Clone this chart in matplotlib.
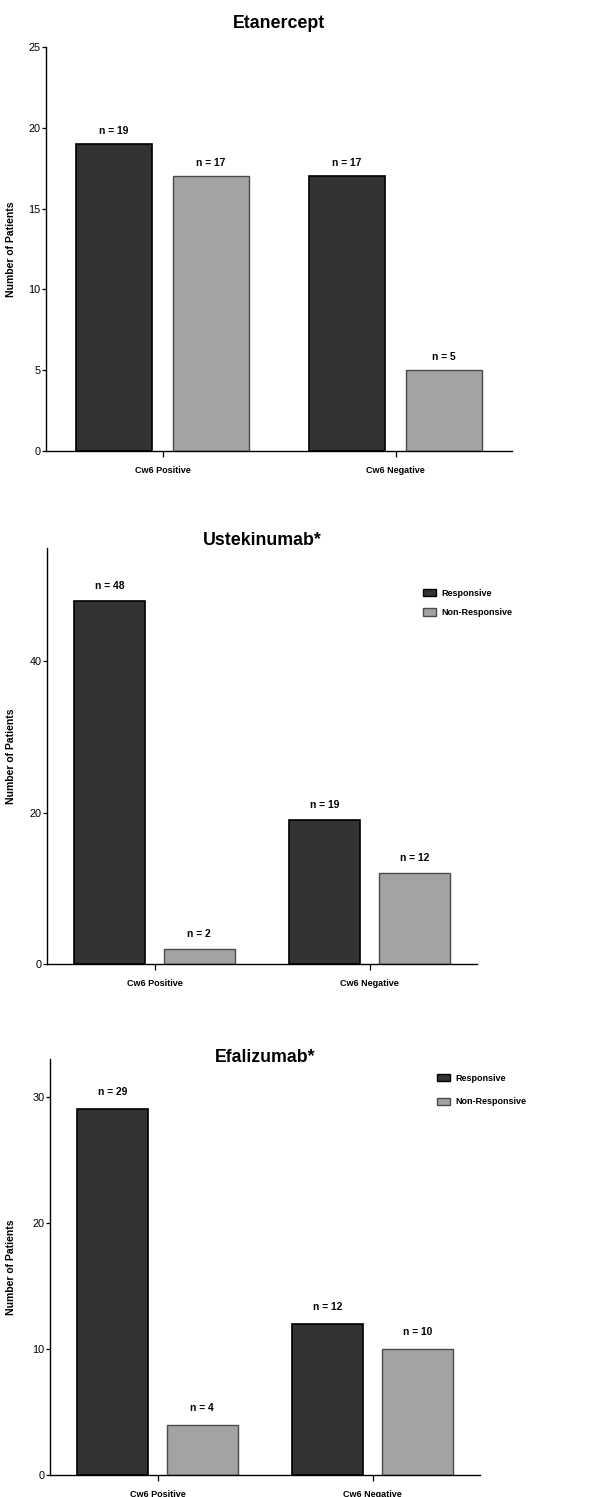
import matplotlib
matplotlib.use("Agg")
import matplotlib.pyplot as plt
from matplotlib.patches import Patch
import numpy as np

plt.rcParams['font.family'] = ['Liberation Sans', 'DejaVu Sans']

categories = ["Cw6 Positive", "Cw6 Negative"]
series_names = ["Responsive", "Non-Responsive"]

titles = ["Etanercept", "Ustekinumab*", "Efalizumab*"]
responsive = [[19, 17], [48, 19], [29, 12]]
non_responsive = [[17, 5], [2, 12], [4, 10]]
yticks = [[0, 5, 10, 15, 20, 25], [0, 20, 40], [0, 10, 20, 30]]
ylims = [25, 55, 33]

dark = "#333333"
gray = "#a3a3a6"

W, H = 615, 1497
fig = plt.figure(figsize=(W / 100, H / 100), dpi=100)

# layout (pixels): left, right, top, bottom
boxes = [(46, 512, 47, 451), (47, 477, 548, 964), (50, 480, 1059, 1475)]
title_y = [1.048, 1.008, 0.993]
label_off = [8, 10, 12]
legend_pos = [None, (423, 603, 1.15), (437, 1090, 1.65)]

x = np.arange(len(categories))
bw = 0.33
off = 0.208

for i in range(3):
    l, r, t, b = boxes[i]
    ax = fig.add_axes([l / W, 1 - b / H, (r - l) / W, (b - t) / H])
    b1 = ax.bar(x - off, responsive[i], bw, color=dark, edgecolor="black", linewidth=1.2, zorder=2)
    b2 = ax.bar(x + off, non_responsive[i], bw, color=gray, edgecolor="#4a4a4a", linewidth=1.0, zorder=2)
    for bars, vals in ((b1, responsive[i]), (b2, non_responsive[i])):
        for rect, v in zip(bars, vals):
            ax.annotate(f"n = {v}", (rect.get_x() + rect.get_width() / 2, v),
                        xytext=(0, label_off[i] * 0.72), textcoords="offset points",
                        ha="center", va="bottom", fontsize=7.4, fontweight="bold")
    ax.set_xlim(-0.5, 1.5)
    ax.set_ylim(0, ylims[i])
    ax.set_xticks(x)
    ax.set_xticklabels(categories, fontsize=6.5, fontweight="bold")
    ax.set_yticks(yticks[i])
    ax.tick_params(axis="y", length=3, width=0.9, pad=1, labelsize=7.8)
    ax.tick_params(axis="x", length=4, width=0.9, pad=7)
    for s in ("top", "right"):
        ax.spines[s].set_visible(False)
    for s in ("left", "bottom"):
        ax.spines[s].set_linewidth(1.0)
    ax.set_title(titles[i], fontsize=12.8, fontweight="bold", y=title_y[i], pad=0)
    ax.set_ylabel("Number of Patients", fontsize=7.5, fontweight="bold", va="center")
    ax.yaxis.set_label_coords(11.5 / W, 1 - ((t + b) / 2) / H, transform=fig.transFigure)
    if legend_pos[i] is not None:
        lx, ly, ls = legend_pos[i]
        handles = [Patch(facecolor=dark, edgecolor="black", linewidth=1.0),
                   Patch(facecolor=gray, edgecolor="#4a4a4a", linewidth=1.0)]
        ax.legend(handles, series_names, loc="center left",
                  bbox_to_anchor=(lx / W, 1 - ly / H), bbox_transform=fig.transFigure,
                  frameon=False, borderpad=0, borderaxespad=0, handlelength=1.4,
                  handleheight=0.85, handletextpad=0.65, labelspacing=ls,
                  prop={"size": 6.5, "weight": "bold"})

fig.savefig("out.png", dpi=100)
